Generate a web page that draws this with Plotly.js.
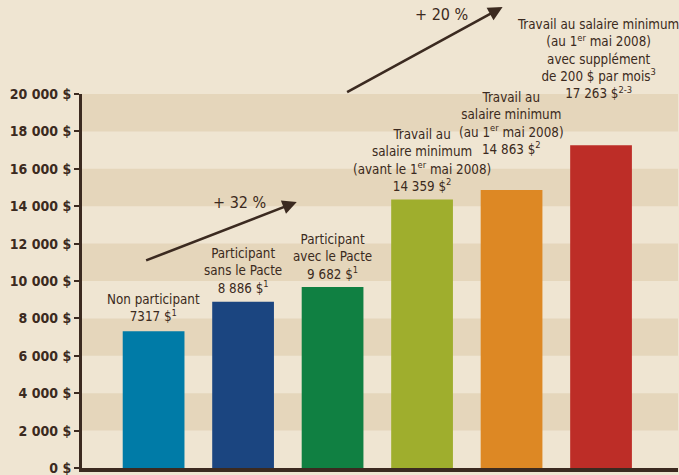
<!DOCTYPE html>
<html>
<head>
<meta charset="utf-8">
<script src="https://cdn.plot.ly/plotly-3.0.1.min.js"></script>
<style>html,body{margin:0;padding:0;background:#efe5d2;}</style>
</head>
<body>
<div id="chart" style="width:679px;height:475px;"></div>
<script>
// ---- data ----
var categories = [
  "Non participant",
  "Participant sans le Pacte",
  "Participant avec le Pacte",
  "Travail au salaire minimum (avant le 1er mai 2008)",
  "Travail au salaire minimum (au 1er mai 2008)",
  "Travail au salaire minimum (au 1er mai 2008) avec supplément"
];
var values = [7317, 8886, 9682, 14359, 14863, 17263];
var barLabels = [
  "Non participant<br>7317 $<sup>1</sup>",
  "Participant<br>sans le Pacte<br>8 886 $<sup>1</sup>",
  "Participant<br>avec le Pacte<br>9 682 $<sup>1</sup>",
  "Travail au<br>salaire minimum<br>(avant le 1<sup>er</sup> mai 2008)<br>14 359 $<sup>2</sup>",
  "Travail au<br>salaire minimum<br>(au 1<sup>er</sup> mai 2008)<br>14 863 $<sup>2</sup>",
  "Travail au salaire minimum<br>(au 1<sup>er</sup> mai 2008)<br>avec supplément<br>de 200 $ par mois<sup>3</sup><br>17 263 $<sup>2-3</sup>"
];
var tickValues = [0, 2000, 4000, 6000, 8000, 10000, 12000, 14000, 16000, 18000, 20000];
var tickLabels = ["0 $", "2 000 $", "4 000 $", "6 000 $", "8 000 $", "10 000 $",
                  "12 000 $", "14 000 $", "16 000 $", "18 000 $", "20 000 $"];
var growthLabels = ["+ 32 %", "+ 20 %"];

// ---- style ----
var barColors = ["#007ba7", "#1b4580", "#108042", "#9fae2d", "#dd8824", "#bd2d27"];
var labelLift = [5, 4, 3, 3, 31, 42];
var labelNudge = [0, 0, 0, 0, 0, -3];
var ink = "#3b2a20";
var fontFam = "'DejaVu Sans Condensed', sans-serif";

var xIdx = categories.map(function(c, i){ return i; });

var trace = {
  type: "bar",
  x: xIdx,
  y: values,
  marker: {color: barColors, line: {width: 0}},
  width: 0.69,
  hoverinfo: "skip"
};

var shapes = [];
for (var i = 1; i < tickValues.length; i += 2) {
  shapes.push({
    type: "rect", xref: "paper", yref: "y", layer: "below",
    x0: 0, x1: 1, y0: tickValues[i], y1: tickValues[i + 1],
    fillcolor: "#e5d6bb", line: {width: 0}
  });
}

var annotations = barLabels.map(function(t, i){
  return {
    x: xIdx[i], y: values[i], xref: "x", yref: "y",
    text: t, showarrow: false, yanchor: "bottom", xanchor: "center",
    yshift: labelLift[i], xshift: labelNudge[i], align: "center",
    font: {family: fontFam, size: 13.3, color: ink}
  };
});

// growth arrows
annotations.push({
  x: 1.6, y: 14224, ax: -0.1, ay: 11070, xref: "x", yref: "y", axref: "x", ayref: "y",
  text: "", showarrow: true, arrowhead: 2, arrowsize: 1.1, arrowwidth: 2.6, arrowcolor: ink
});
annotations.push({
  x: 3.9, y: 1.2325, xref: "x", yref: "paper", ax: -157, ay: 86,
  text: "", showarrow: true, arrowhead: 2, arrowsize: 1.1, arrowwidth: 2.6, arrowcolor: ink
});
annotations.push({
  x: 0.96, y: 14220, xref: "x", yref: "y", text: growthLabels[0], showarrow: false,
  xanchor: "center", yanchor: "middle",
  font: {family: fontFam, size: 16, color: ink}
});
annotations.push({
  x: 3.22, y: 1.213, xref: "x", yref: "paper", text: growthLabels[1], showarrow: false,
  xanchor: "center", yanchor: "middle",
  font: {family: fontFam, size: 16, color: ink}
});

var layout = {
  width: 679, height: 475,
  margin: {l: 82, r: 1, t: 94, b: 7, pad: 0},
  paper_bgcolor: "#efe5d2",
  plot_bgcolor: "#efe5d2",
  showlegend: false,
  bargap: 0.3,
  xaxis: {
    range: [-0.8, 5.86], showticklabels: false, ticks: "", showgrid: false, zeroline: false,
    showline: true, linecolor: ink, linewidth: 3.5, fixedrange: true
  },
  yaxis: {
    range: [0, 20000], tickvals: tickValues, ticktext: tickLabels,
    ticks: "outside", ticklen: 5, tickwidth: 2, tickcolor: ink,
    ticklabeloverflow: "allow",
    showgrid: false, zeroline: false, showline: true, linecolor: ink, linewidth: 3,
    tickfont: {family: fontFam, size: 14, color: ink, weight: "bold"}, fixedrange: true
  },
  shapes: shapes,
  annotations: annotations
};

Plotly.newPlot("chart", [trace], layout, {displayModeBar: false, staticPlot: true});
</script>
</body>
</html>
